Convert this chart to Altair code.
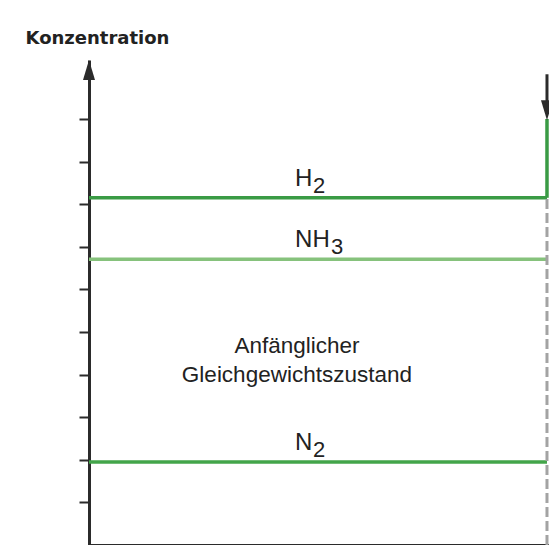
import altair as alt
import pandas as pd

# ---- data ----
species = ["H2", "NH3", "N2"]
label_main = ["H", "NH", "N"]
label_sub = ["2", "3", "2"]
conc = [8.15, 6.71, 1.95]
line_colors = ["#3a9b45", "#86c27c", "#43a54a"]

t_start = 0.0
t_change = 10.0          # moment of the disturbance (right edge)
t_max = 10.044
y_max = 11.385
h2_after = 10.0          # H2 concentration after the addition
arrow_top = 11.05
label_t = 4.50
tick_values = [1, 2, 3, 4, 5, 6, 7, 8, 9, 10]
center_text = "Anfänglicher\nGleichgewichtszustand"
center_t = 4.54
center_y = 4.51

DARK = "#2b2b2b"
TEXT = "#222222"

lines_df = pd.DataFrame({
    "species": species, "main": label_main, "sub": label_sub,
    "conc": conc, "color": line_colors,
    "t0": [t_start] * 3, "t1": [t_change] * 3, "lt": [label_t] * 3,
})
jump_df = pd.DataFrame({"t": [t_change], "y0": [conc[0]], "y1": [h2_after]})
dash_df = pd.DataFrame({"t": [t_change], "y0": [0.0], "y1": [conc[0]]})
shaft_df = pd.DataFrame({"t": [t_change], "y0": [h2_after + 0.4], "y1": [arrow_top]})
head_df = pd.DataFrame({"t": [t_change], "y": [h2_after - 0.03]})
axis_head_df = pd.DataFrame({"t": [t_start], "y": [y_max]})
center_df = pd.DataFrame({"t": [center_t], "y": [center_y], "txt": [center_text]})

xs = alt.Scale(domain=[0, t_max], nice=False, zero=False)
ys = alt.Scale(domain=[0, y_max], nice=False, zero=False)

x_axis = alt.Axis(ticks=False, labels=False, grid=False, domainColor=DARK,
                  domainWidth=3, title=None)
y_axis = alt.Axis(values=tick_values, labels=False, grid=False,
                  domainColor=DARK, domainWidth=3, tickColor=DARK,
                  tickWidth=2, tickSize=10,
                  title="Konzentration", titleAngle=0, titleAlign="left",
                  titleBaseline="middle", titleX=-64, titleY=-22,
                  titleFont="DejaVu Sans", titleFontSize=18,
                  titleFontWeight="bold", titleColor=TEXT)


def X(f):
    return alt.X(f, type="quantitative", scale=xs, axis=x_axis)


def Y(f):
    return alt.Y(f, type="quantitative", scale=ys, axis=y_axis)


lines = alt.Chart(lines_df).mark_rule(strokeWidth=3.5).encode(
    x=X("t0"), x2="t1", y=Y("conc"),
    color=alt.Color("color:N", scale=None))

jump = alt.Chart(jump_df).mark_rule(strokeWidth=3.5, color=line_colors[0]).encode(
    x=X("t"), y=Y("y0"), y2="y1")

dashed = alt.Chart(dash_df).mark_rule(strokeWidth=3, color="#a3a3a3",
                                      strokeDash=[10, 4]).encode(
    x=X("t"), y=Y("y0"), y2="y1")

shaft = alt.Chart(shaft_df).mark_rule(strokeWidth=3, color=DARK).encode(
    x=X("t"), y=Y("y0"), y2="y1")

down_head = alt.Chart(head_df).mark_point(
    shape="M-0.3,-1 L0.3,-1 L0,0 Z", size=1600, filled=True,
    color=DARK, opacity=1, strokeWidth=0).encode(x=X("t"), y=Y("y"))

up_head = alt.Chart(axis_head_df).mark_point(
    shape="M-0.3,1 L0.3,1 L0,0 Z", size=1600, filled=True,
    color=DARK, opacity=1, strokeWidth=0).encode(x=X("t"), y=Y("y"))

labels = alt.Chart(lines_df).mark_text(
    align="left", baseline="alphabetic", font="Liberation Sans",
    fontSize=24, dy=-12, color=TEXT).encode(
    x=X("lt"), y=Y("conc"), text="main:N")

subs_short = alt.Chart(lines_df).transform_filter(
    "length(datum.main) == 1").mark_text(
    align="left", baseline="alphabetic", font="Liberation Sans",
    fontSize=22, dy=-5, dx=18, color=TEXT).encode(
    x=X("lt"), y=Y("conc"), text="sub:N")

subs_long = alt.Chart(lines_df).transform_filter(
    "length(datum.main) == 2").mark_text(
    align="left", baseline="alphabetic", font="Liberation Sans",
    fontSize=22, dy=-5, dx=36, color=TEXT).encode(
    x=X("lt"), y=Y("conc"), text="sub:N")

center = alt.Chart(center_df).mark_text(
    align="center", baseline="alphabetic", font="Liberation Sans",
    fontSize=22.5, lineHeight=29, lineBreak="\n", color=TEXT).encode(
    x=X("t"), y=Y("y"), text="txt:N")

chart = alt.layer(
    lines, jump, dashed, shaft, down_head, up_head,
    labels, subs_short, subs_long, center
).properties(
    width=460, height=485,
    autosize=alt.AutoSizeParams(type="none"),
    padding={"left": 81, "top": 52, "right": 0, "bottom": 0},
    background="white",
).configure_view(stroke=None)

chart.save("out.html", embed_options={"renderer": "svg", "actions": False})
